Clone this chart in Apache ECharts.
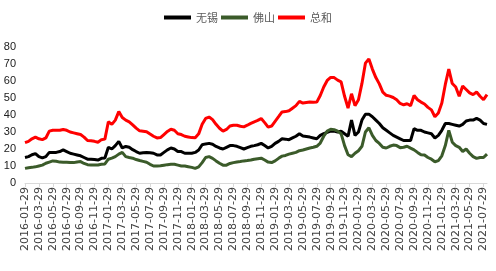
<!DOCTYPE html>
<html>
<head>
<meta charset="utf-8">
<script src="https://cdn.jsdelivr.net/npm/echarts@6/dist/echarts.min.js"></script>
<style>html,body{margin:0;padding:0;background:#fff;}#c{width:496px;height:271px;}</style>
</head>
<body>
<div id="c"></div>
<script>
// Half-monthly sample dates from 2016-01-29 to 2021-08
const categories = [];
(function () {
  let y = 2016, m = 1;
  for (let k = 0; k < 134; k++) {
    if (k % 2 === 0) {
      const d = (m === 2) ? '28' : '29';
      categories.push(y + '-' + String(m).padStart(2, '0') + '-' + d);
    } else {
      let ny = y, nm = m + 1;
      if (nm > 12) { nm = 1; ny++; }
      categories.push(ny + '-' + String(nm).padStart(2, '0') + '-13');
      y = ny; m = nm;
    }
  }
})();

const wuxi = [
  15, 15.5, 16.6, 17.3, 15.5, 14.8, 15.5, 18, 18, 18,
  18.5, 19.5, 18.5, 17.5, 17, 16.5, 16, 15, 14, 14,
  13.8, 13.5, 14.5, 14.7, 21, 20, 22, 24.5, 20.6, 21.5,
  21, 19.6, 18.5, 17.5, 17.8, 18, 17.8, 17.5, 16.5, 16.5,
  18, 19.5, 20.6, 20, 18.5, 18.5, 17.5, 17.5, 17.5, 18,
  19.4, 22.5, 23, 23.3, 22.8, 21.5, 20.6, 20, 21, 22,
  22, 21.6, 20.8, 20, 20.8, 21.6, 22, 22.5, 23.3, 22,
  20.6, 21.5, 23.3, 24.5, 26, 25.8, 25.5, 26.5, 27.5, 29,
  27.6, 27.3, 27, 26.5, 26, 28, 29, 29.8, 30.5, 30.6,
  30, 30.5, 29, 27.5, 37, 28, 30, 37, 40.5, 40.5,
  39, 37, 35, 32.5, 31, 29.5, 28, 27, 26, 25,
  25, 25, 32, 31, 31, 30, 29.5, 29, 26.5, 28,
  31, 35, 35, 34.5, 34, 33.5, 34.5, 36.5, 37, 37,
  38, 37, 35, 34.5
];

const foshan = [
  8.6, 9, 9.2, 9.5, 10, 10.5, 11.6, 12.3, 13, 12.8,
  12.3, 12.2, 12.2, 12, 12, 12.4, 12.6, 11.5, 10.8, 10.6,
  10.6, 10.6, 11, 11.2, 14, 14.6, 15.5, 17, 18, 15.5,
  15, 14.6, 13.8, 13.2, 12.7, 12.2, 11, 10, 10, 10.2,
  10.5, 10.8, 11, 11, 10.5, 10, 10, 9.6, 9.2, 8.6,
  9.5, 12, 15, 15.5, 14.5, 13, 11.6, 10.5, 10.5, 11.5,
  12, 12.4, 12.6, 13, 13.2, 13.5, 14, 14.3, 14.6, 13.5,
  12.3, 12, 13, 14.5, 15.8, 16.2, 17, 17.5, 18, 19,
  19.4, 20, 20.6, 21, 21.6, 23.5, 27.5, 30.5, 31.6, 31.4,
  30.5, 29, 22, 16.6, 15.5, 17.5, 19, 21.6, 30, 32.5,
  28, 25, 23.3, 21, 20.6, 21.6, 22.3, 22, 20.8, 21,
  21.6, 20.5, 19.5, 18, 16.6, 16.5, 15, 14, 12.5, 13.2,
  16, 22, 31, 24, 22, 21, 18.5, 20, 17.5, 15.5,
  14.5, 15, 15, 17
];

const total = [
  23.7, 24.5, 26, 27, 26, 25.5, 26.5, 30.5, 31, 31,
  31, 31.5, 31, 30, 29.5, 29, 28.5, 27, 25, 24.8,
  24.5, 24, 25.5, 25.8, 36, 34.5, 37, 42, 38.5, 37,
  36, 34.2, 32.3, 30.7, 30.5, 30.2, 28.8, 27.5, 26.5, 26.7,
  28.5, 30.3, 31.6, 31, 29, 28.5, 27.5, 27.1, 26.7, 26.6,
  28.9, 34.5, 38, 38.8, 37.3, 34.5, 32.2, 30.5, 31.5, 33.5,
  34, 34, 33.4, 33, 34, 35.1, 36, 36.8, 37.9, 35.5,
  32.9, 33.5, 36.3, 39, 41.8, 42, 42.5, 44, 45.5, 48,
  47, 47.3, 47.6, 47.5, 47.6, 51.5, 56.5, 60.3, 62.1, 62,
  60.5, 59.5, 51, 44.1, 52.5, 45.5, 49, 58.6, 70.5, 73,
  67, 62, 58.3, 53.5, 51.6, 51.1, 50.3, 49, 46.8, 46,
  46.6, 45.5, 51.5, 49, 47.6, 46.5, 44.5, 43, 39, 41.2,
  47, 58, 67, 58.5, 56.5, 51, 57, 55, 53, 52,
  53.5, 51, 49, 52
];

const seriesNames = ['无锡', '佛山', '总和'];
const seriesColors = ['#000000', '#3B5B2A', '#FF0000'];
const yTicks = [0, 10, 20, 30, 40, 50, 60, 70, 80];

const chart = echarts.init(document.getElementById('c'), null, { renderer: 'canvas' });
chart.setOption({
  animation: false,
  backgroundColor: '#ffffff',
  legend: {
    top: 7,
    left: 'center',
    itemWidth: 27,
    itemHeight: 4,
    itemGap: 3,
    icon: 'rect',
    textStyle: { fontSize: 11, color: '#595959', fontFamily: 'Noto Sans CJK SC' },
    data: seriesNames
  },
  grid: { left: 25, right: 9, top: 47, bottom: 88, containLabel: false },
  xAxis: {
    type: 'category',
    data: categories,
    boundaryGap: false,
    axisLine: { lineStyle: { color: '#D9D9D9', width: 1 } },
    axisTick: { show: true, interval: 3, length: 4, lineStyle: { color: '#D9D9D9' } },
    axisLabel: {
      interval: 3,
      rotate: 90,
      margin: 4,
      fontSize: 11,
      color: '#404040',
      fontFamily: 'DejaVu Sans'
    },
    splitLine: { show: false }
  },
  yAxis: {
    type: 'value',
    min: yTicks[0],
    max: yTicks[yTicks.length - 1],
    interval: 10,
    axisLine: { show: false },
    axisTick: { show: false },
    splitLine: { show: false },
    axisLabel: { margin: 9, fontSize: 11, color: '#202020', fontFamily: 'Liberation Sans' }
  },
  series: [
    { name: seriesNames[0], type: 'line', data: wuxi, symbol: 'none', lineStyle: { width: 3, color: seriesColors[0] }, itemStyle: { color: seriesColors[0] } },
    { name: seriesNames[1], type: 'line', data: foshan, symbol: 'none', lineStyle: { width: 3, color: seriesColors[1] }, itemStyle: { color: seriesColors[1] } },
    { name: seriesNames[2], type: 'line', data: total, symbol: 'none', lineStyle: { width: 3, color: seriesColors[2] }, itemStyle: { color: seriesColors[2] } }
  ]
});
</script>
</body>
</html>
